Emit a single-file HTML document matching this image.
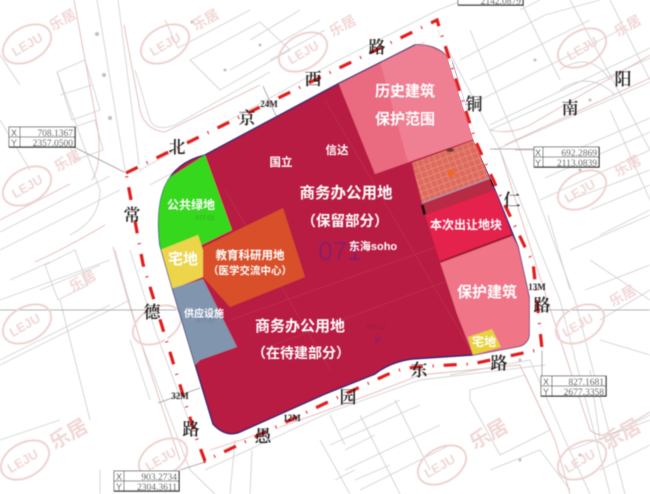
<!DOCTYPE html>
<html><head><meta charset="utf-8">
<style>
html,body{margin:0;padding:0;background:#fff;width:650px;height:494px;overflow:hidden}
svg{display:block}
text{font-family:"Liberation Sans","Noto Sans CJK SC",sans-serif}
.r{font-family:"Noto Serif CJK SC","Liberation Serif",serif;font-size:17px;fill:#1c1c1c;text-anchor:middle;font-weight:600}
.w{fill:#fff;text-anchor:middle;font-weight:700}
.n{font-family:"Liberation Serif",serif;fill:#333;font-size:9.5px;text-anchor:end}
.m{font-family:"Liberation Serif",serif;fill:#222;font-size:9px;font-weight:700;text-anchor:middle}
.wm ellipse{fill:none;stroke:#eed3d1;stroke-width:2}
.wm text{fill:#f0d8d6;font-weight:700;text-anchor:middle}
</style></head>
<body>
<svg width="650" height="494" viewBox="0 0 650 494" xmlns="http://www.w3.org/2000/svg">
<defs>
<filter id="b1" x="-5%" y="-5%" width="110%" height="110%"><feGaussianBlur stdDeviation="0.6"/></filter>
<pattern id="hat" width="6" height="6" patternUnits="userSpaceOnUse" patternTransform="rotate(-20)">
<rect width="6" height="6" fill="#dd6a5c"/><path d="M0 0H6M0 0V6" stroke="#ec9a8c" stroke-width="1"/>
</pattern>
<clipPath id="site"><path d="M205 155L338 84L415 45Q440 44 452 63L475 140L495 190L518 247L529 297L529 335Q528 343 520 346L472 355L412 359Q390 362 375 374L325 394L240 432Q226 438 213 424L195 364L172 287L160 245C155 200 163 165 205 155Z"/></clipPath>
</defs>

<rect width="650" height="494" fill="#fff"/>

<!-- CAD background -->
<g filter="url(#b1)" fill="none">
<g stroke="#d2d2d2" stroke-width="0.9">
<path d="M97 0L125 170M118 0L140 172"/>
<path d="M0 250L120 190M0 232L110 176"/>
<path d="M140 170L335 62L438 10L490 -10"/>
<path d="M150 185L340 82L425 42"/>
<path d="M438 30L500 150L560 300L610 494"/>
<path d="M470 30L520 150L575 300L625 494"/>
<path d="M115 250L140 340L190 470L215 494"/>
<path d="M130 250L155 330L200 450"/>
<path d="M205 470L330 412L420 380L545 365"/>
<path d="M0 360L110 305M0 365L130 300"/>
<path d="M490 130L650 58M495 150L650 82"/>
<path d="M540 165L650 118M545 178L650 132"/>
<path d="M230 494L235 440M250 494L252 450"/>
<path d="M0 120L30 170M57 72L100 190Q100 220 70 235"/>
<path d="M0 55L20 85M0 300L110 260"/>
<path d="M135 70L150 120Q155 132 175 125L270 72"/>
<path d="M165 20L178 48L250 10M190 60L260 22L290 50L220 90ZM250 40L300 10M270 60L325 30M230 70L320 20"/>
<path d="M460 60L545 15L600 0M470 80L590 20M480 100L620 30M490 125L650 48M570 0L650 150M610 0L650 80M520 0L560 80"/>
<path d="M548 215L570 290M570 200L650 170M590 210L650 185M600 235L650 210M570 250L650 215M585 290L650 265M540 200L650 150"/>
<path d="M540 0L520 10M610 110L650 200"/>
<path d="M340 430L400 400M330 445L420 405M345 470L440 425M360 490L450 445M320 440L350 494M360 415L400 494M395 400L430 470"/>
<path d="M330 415L345 445M335 480L355 470M345 450L375 435M355 480L390 465"/>
<path d="M450 375L530 360L565 440L590 494M470 390L525 375L550 430L500 455L470 400ZM490 470L540 450L570 490"/>
<path d="M590 370L600 440L650 415M570 450L650 420M600 470L650 445M590 260L650 300M600 320L650 290M600 340L650 355"/>
<path d="M60 300L90 420M130 340L150 400M0 440L60 420M100 470L100 494"/>
<path d="M560 70Q590 50 610 80M560 90Q590 70 615 95"/>
<path d="M57 72L85 60L100 110L72 120ZM60 95L92 85M65 130L95 120L103 150L75 160Z"/>
<path d="M45 265L75 250L88 285L58 300ZM40 290L100 265M10 280L50 262"/>
</g>
<g stroke="#e4b9b7" stroke-width="0.9">
<path d="M74 0L98 130Q102 165 92 180M124 25L140 110Q145 130 165 132L260 85"/>
<path d="M0 220L70 184M105 225Q80 240 50 255L35 262"/>
<path d="M113 247Q135 330 180 460"/>
<path d="M490 130Q510 135 530 125L650 55M505 145L650 78"/>
<path d="M500 150Q540 280 590 430Q600 440 620 430L650 412"/>
<path d="M515 150L570 150M210 450Q320 415 420 375L520 365L555 440L570 494"/>
</g>
<g fill="#c0c0c0">
<circle cx="97" cy="34" r="2"/><circle cx="104" cy="75" r="2"/><circle cx="110" cy="118" r="2"/><circle cx="192" cy="22" r="1.5"/><circle cx="225" cy="70" r="1.5"/><circle cx="260" cy="45" r="1.5"/><circle cx="535" cy="60" r="1.5"/><circle cx="590" cy="100" r="1.5"/><circle cx="580" cy="170" r="1.5"/><circle cx="520" cy="360" r="1.5"/><circle cx="600" cy="380" r="1.5"/><circle cx="580" cy="455" r="1.5"/><circle cx="520" cy="460" r="1.5"/>
</g>
<g stroke="#999" stroke-width="0.8">
<path d="M0 310H176M537 310H650"/>
<path d="M72 146L126 173M490 149L535 149M541 380H542V350"/>
<path d="M180 470L205 462"/>
<path d="M263 86L277 118M158 403L200 388"/>
</g>
<g class="wm">
<ellipse cx="27" cy="44" rx="26" ry="17" transform="rotate(-30 27 44)"/><text x="27" y="49" font-size="13" transform="rotate(-30 27 44)">LEJU</text><text x="65" y="24" font-size="14" transform="rotate(-30 65 24)">乐居</text>
<ellipse cx="165" cy="44" rx="26" ry="17" transform="rotate(-30 165 44)"/><text x="165" y="49" font-size="13" transform="rotate(-30 165 44)">LEJU</text><text x="208" y="24" font-size="14" transform="rotate(-30 208 24)">乐居</text>
<ellipse cx="303" cy="52" rx="26" ry="17" transform="rotate(-30 303 52)"/><text x="303" y="57" font-size="13" transform="rotate(-30 303 52)">LEJU</text><text x="345" y="30" font-size="14" transform="rotate(-30 345 30)">乐居</text>
<ellipse cx="582" cy="48" rx="26" ry="17" transform="rotate(-30 582 48)"/><text x="582" y="53" font-size="13" transform="rotate(-30 582 48)">LEJU</text><text x="630" y="30" font-size="14" transform="rotate(-30 630 30)">乐居</text>
<ellipse cx="27" cy="186" rx="26" ry="17" transform="rotate(-30 27 186)"/><text x="27" y="191" font-size="13" transform="rotate(-30 27 186)">LEJU</text><text x="70" y="165" font-size="14" transform="rotate(-30 70 165)">乐居</text>
<ellipse cx="582" cy="190" rx="26" ry="17" transform="rotate(-30 582 190)"/><text x="582" y="195" font-size="13" transform="rotate(-30 582 195)">LEJU</text><text x="630" y="170" font-size="14" transform="rotate(-30 630 170)">乐居</text>
<ellipse cx="27" cy="324" rx="26" ry="17" transform="rotate(-30 27 324)"/><text x="27" y="329" font-size="13" transform="rotate(-30 27 329)">LEJU</text><text x="85" y="285" font-size="14" transform="rotate(-30 85 285)">乐居</text>
<ellipse cx="157" cy="325" rx="26" ry="17" transform="rotate(-30 157 325)"/>
<ellipse cx="580" cy="324" rx="26" ry="17" transform="rotate(-30 580 324)"/><text x="580" y="329" font-size="13" transform="rotate(-30 580 329)">LEJU</text><text x="625" y="300" font-size="14" transform="rotate(-30 625 300)">乐居</text>
<ellipse cx="25" cy="460" rx="26" ry="17" transform="rotate(-30 25 460)"/><text x="25" y="465" font-size="13" transform="rotate(-30 25 465)">LEJU</text><text x="72" y="440" font-size="20" transform="rotate(-30 72 440)">乐居</text>
<ellipse cx="163" cy="458" rx="26" ry="17" transform="rotate(-30 163 458)"/><text x="163" y="463" font-size="13" transform="rotate(-30 163 463)">LEJU</text>
<ellipse cx="442" cy="465" rx="26" ry="17" transform="rotate(-30 442 465)"/><text x="442" y="470" font-size="13" transform="rotate(-30 442 470)">LEJU</text><text x="492" y="440" font-size="20" transform="rotate(-30 492 440)">乐居</text>
<ellipse cx="582" cy="460" rx="26" ry="17" transform="rotate(-30 582 460)"/><text x="582" y="465" font-size="13" transform="rotate(-30 582 465)">LEJU</text><text x="625" y="440" font-size="20" transform="rotate(-30 625 440)">乐居</text>
</g>
</g>

<!-- Site -->
<g filter="url(#b1)">
<path d="M205 155L338 84L415 45Q440 44 452 63L475 140L495 190L518 247L529 297L529 335Q528 343 520 346L472 355L412 359Q390 362 375 374L325 394L240 432Q226 438 213 424L195 364L172 287L160 245C155 200 163 165 205 155Z" fill="#b81f42" stroke="#33206a" stroke-width="1.4"/>
<g clip-path="url(#site)">
<path d="M325 100L500 400M225 190L330 370M230 320L470 235M260 350L450 280" stroke="#c33755" stroke-width="0.5" fill="none"/>
<path d="M338 82L415 40L460 40L477 138L375 174Z" fill="#ea6a80"/>
<path d="M380 62L420 42L458 60L477 138L408 162Z" fill="#ef7f92"/>
<path d="M412 163L475 140L490 178L422 203Z" fill="url(#hat)"/>
<path d="M422 203L490 178L495 190L425 215Z" fill="#b92a45"/>
<path d="M422 203L490 178" stroke="#a99ab0" stroke-width="1.4"/>
<path d="M425 215L495 190L512 235L440 262Z" fill="#e4214b"/>
<path d="M440 262L512 235L518 247L540 300V350L473 355L457 314Z" fill="#ef7487"/>
<path d="M440 262L512 235" stroke="#9e1230" stroke-width="2"/>
<path d="M205 155L232 230L175 258L155 250L150 190Z" fill="#35d81f"/>
<path d="M160 250L198 235L203 250L203 277L173 289L165 280Z" fill="#ecd44b"/>
<path d="M203 247L283 208L305 277L230 307L203 277Z" fill="#d8502a"/>
<path d="M170 289L203 279L237 347L200 360L192 368Z" fill="#8295ae"/>
<path d="M468 337L492 329L501 347L473 355Z" fill="#e6d23b"/>
</g>
<path d="M205 155L338 84L415 45" fill="none" stroke="#2e2a70" stroke-width="0.8"/>
<path d="M475 140L495 190" stroke="#3a2d9a" stroke-width="1.2"/>
<rect x="491" y="178" width="4" height="8" fill="#111" transform="rotate(-20 493 182)"/>
<rect x="422" y="205" width="3" height="10" fill="#111" transform="rotate(-15 423 210)"/>
<circle cx="451" cy="173" r="3.5" fill="#ef6a1f"/>
<ellipse cx="450" cy="150" rx="4" ry="2" fill="#6a3a2a"/>
<text x="340" y="260" font-size="26" fill="#6c2080" font-family="Liberation Serif,serif" text-anchor="middle" opacity=".6">071</text>
<text x="378" y="344" font-size="9" fill="#6c2080" text-anchor="middle">P</text>
<text x="205" y="220" font-size="6" fill="#2aa81a" text-anchor="middle">07T-02</text>
<text x="206" y="323" font-size="6" fill="#6a7a90" text-anchor="middle">07T-07</text>
<text x="376" y="329" font-size="6" fill="#8f1a38" text-anchor="middle">07T-12</text>
</g>

<!-- Boundary -->
<path d="M126 173L325 75L437 20L475 140L500 195L525 247L533 262L542 349L472 364Q445 365 418 367Q400 368 382 377L332 400L205 461L195 434L143 264Z" fill="none" stroke="#fff" stroke-width="3"/>
<path d="M126 173L325 75L437 20L475 140L500 195L525 247L533 262L542 349L472 364Q445 365 418 367Q400 368 382 377L332 400L205 461L195 434L143 264Z" fill="none" stroke="#e11a1e" stroke-width="3.2" stroke-dasharray="13 10 1 10" filter="url(#b1)"/>

<!-- Labels -->
<g filter="url(#b1)">
<text class="r" x="177" y="153">北</text>
<text class="r" x="247" y="124">京</text>
<text class="r" x="313" y="85">西</text>
<text class="r" x="377" y="53">路</text>
<text class="r" x="474" y="110">铜</text>
<text class="r" x="570" y="114">南</text>
<text class="r" x="623" y="85">阳</text>
<text class="r" x="512" y="206">仁</text>
<text class="r" x="132" y="221">常</text>
<text class="r" x="152" y="318">德</text>
<text class="r" x="191" y="435">路</text>
<text class="r" x="263" y="442">愚</text>
<text class="r" x="348" y="403">园</text>
<text class="r" x="419" y="376">东</text>
<text class="r" x="499" y="369">路</text>
<text class="r" x="542" y="311">路</text>
<text class="m" x="269" y="107">24M</text>
<text class="m" x="180" y="399">32M</text>
<text class="m" x="292" y="421">12M</text>
<text class="m" x="537" y="290">13M</text>

<text class="w" x="191" y="209" font-size="12">公共绿地</text>
<text class="w" x="183" y="264" font-size="15">宅地</text>
<text class="w" x="250" y="259" font-size="11.5">教育科研用地</text>
<text class="w" x="250" y="274" font-size="10.5" letter-spacing="0">（医学交流中心）</text>
<text class="w" x="204" y="317" font-size="10">供应设施</text>
<text class="w" x="281" y="166" font-size="11.5">国立</text>
<text class="w" x="337" y="154" font-size="11.5">信达</text>
<text class="w" x="346" y="198" font-size="15.5">商务办公用地</text>
<text class="w" x="345" y="226" font-size="14.5">（保留部分）</text>
<text class="w" x="373" y="250" font-size="11" font-weight="400">东海soho</text>
<text class="w" x="405" y="96" font-size="15">历史建筑</text>
<text class="w" x="405" y="124" font-size="15">保护范围</text>
<text class="w" x="466" y="229" font-size="12">本次出让地块</text>
<text class="w" x="487" y="297" font-size="15">保护建筑</text>
<text class="w" x="484" y="346" font-size="12">宅地</text>
<text class="w" x="300" y="331" font-size="15">商务办公用地</text>
<text class="w" x="301" y="358" font-size="14">（在待建部分）</text>

<!-- Coordinate boxes -->
<g fill="#fff" stroke="#555" stroke-width="0.8">
<rect x="9" y="127" width="66" height="20"/><path d="M9 137H75M20 127V147"/>
<rect x="534" y="147" width="65" height="20"/><path d="M534 157H599M543 147V167"/>
<rect x="541" y="376" width="65" height="20"/><path d="M541 386H606M552 376V396"/>
<rect x="114" y="471" width="65" height="20"/><path d="M114 481H179M124 471V491"/>
<rect x="458" y="-8" width="65" height="13"/>
</g>
<path d="M75 127V147H9M599 147V167H534M606 376V396H541M179 471V491H114M523 -2V5H458" fill="none" stroke="#111" stroke-width="1.2"/>
<g>
<text class="n" x="73" y="136">708.1367</text><text class="n" x="73" y="146">2357.0500</text>
<text class="n" x="597" y="156">692.2869</text><text class="n" x="597" y="166">2113.0839</text>
<text class="n" x="604" y="385">827.1681</text><text class="n" x="604" y="395">2677.3358</text>
<text class="n" x="177" y="480">903.2734</text><text class="n" x="177" y="490">2304.3611</text>
<text class="n" x="521" y="4">2142.0879</text>
<text x="14" y="136" font-size="9" fill="#333" text-anchor="middle">X</text><text x="14" y="146" font-size="9" fill="#333" text-anchor="middle">Y</text>
<text x="538" y="156" font-size="9" fill="#333" text-anchor="middle">X</text><text x="538" y="166" font-size="9" fill="#333" text-anchor="middle">Y</text>
<text x="546" y="385" font-size="9" fill="#333" text-anchor="middle">X</text><text x="546" y="395" font-size="9" fill="#333" text-anchor="middle">Y</text>
<text x="119" y="480" font-size="9" fill="#333" text-anchor="middle">X</text><text x="119" y="490" font-size="9" fill="#333" text-anchor="middle">Y</text>
</g>
</g>
</svg>
</body></html>
